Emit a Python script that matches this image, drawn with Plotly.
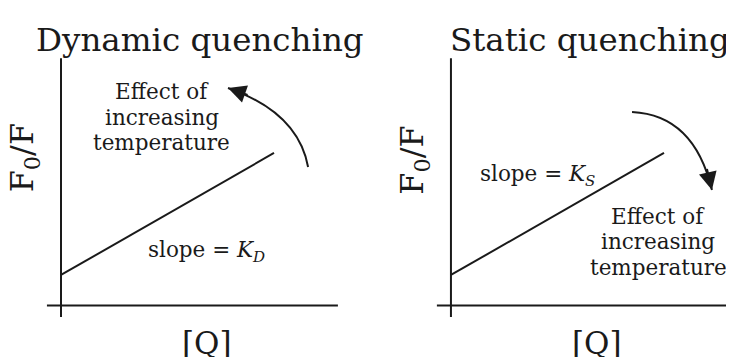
import plotly.graph_objects as go

# schematic Stern-Volmer lines
quencher = [0, 1]
f0f_dynamic = [1, 5]
f0f_static = [1, 5]

titles = ["Dynamic quenching", "Static quenching"]
ylabel = "F<sub>0</sub>/F"
xlabel = "[Q]"
effect_lines = ["Effect of", "increasing", "temperature"]

serif = "DejaVu Serif"
ink = "#1a1a1a"

fig = go.Figure()
fig.add_trace(go.Scatter(x=quencher, y=f0f_dynamic, mode="lines",
                         line=dict(color=ink, width=2), xaxis="x", yaxis="y"))
fig.add_trace(go.Scatter(x=quencher, y=f0f_static, mode="lines",
                         line=dict(color=ink, width=2), xaxis="x2", yaxis="y2"))

shapes = []
for xr, yr in [("x", "y"), ("x2", "y2")]:
    # axis lines crossing at the origin
    shapes.append(dict(type="line", xref=xr, yref=yr, x0=-0.066, x1=1.30, y0=0, y1=0,
                       line=dict(color=ink, width=2)))
    shapes.append(dict(type="line", xref=xr, yref=yr, x0=0, x1=0, y0=-0.377, y1=8.11,
                       line=dict(color=ink, width=2)))

# curved arrows
shapes.append(dict(type="path", xref="x", yref="y",
                   path="M 1.160,4.541 Q 1.113,6.328 0.784,7.131",
                   line=dict(color=ink, width=2)))
shapes.append(dict(type="path", xref="x2", yref="y2",
                   path="M 0.850,6.344 Q 1.141,6.246 1.225,3.787",
                   line=dict(color=ink, width=2)))

big = dict(family=serif, size=32.5, color=ink)
annotations = []
for i, (tx, lx, ly, qx) in enumerate([(0.2645, 0.0225, 0.5702, 0.2741),
                                      (0.8017, 0.5590, 0.5645, 0.8113)]):
    annotations.append(dict(text=titles[i], x=tx, y=0.9083, xref="paper", yref="paper",
                            xanchor="center", yanchor="middle", showarrow=False, font=big))
    annotations.append(dict(text=ylabel, x=lx, y=ly, xref="paper", yref="paper",
                            xanchor="center", yanchor="middle", textangle=-90,
                            showarrow=False, font=dict(family=serif, size=32, color=ink)))
    annotations.append(dict(text=xlabel, x=qx, y=0.0401, xref="paper", yref="paper",
                            xanchor="center", yanchor="middle", showarrow=False,
                            font=dict(family=serif, size=31, color=ink)))

small = dict(family=serif, size=21.5, color=ink)
for line, yl, yr in zip(effect_lines, [7.0, 6.148, 5.328], [2.934, 2.082, 1.230]):
    annotations.append(dict(text=line, x=0.474, y=yl, xref="x", yref="y",
                            showarrow=False, font=small))
    annotations.append(dict(text=line, x=0.972, y=yr, xref="x2", yref="y2",
                            showarrow=False, font=small))
annotations.append(dict(text="slope = <i>K</i><sub><i>D</i></sub>", x=0.685, y=1.754,
                        xref="x", yref="y", showarrow=False, font=small))
annotations.append(dict(text="slope = <i>K</i><sub><i>S</i></sub>", x=0.408, y=4.246,
                        xref="x2", yref="y2", showarrow=False, font=small))

# arrowheads at the ends of the curves
annotations.append(dict(text="", x=0.784, y=7.131, ax=0.883, ay=6.889, xref="x", yref="y",
                        axref="x", ayref="y", showarrow=True, arrowhead=2, arrowsize=1.8,
                        arrowwidth=2, arrowcolor=ink))
annotations.append(dict(text="", x=1.225, y=3.787, ax=1.200, ay=4.525, xref="x2", yref="y2",
                        axref="x2", ayref="y2", showarrow=True, arrowhead=2, arrowsize=1.8,
                        arrowwidth=2, arrowcolor=ink))

# page adds an 8px body margin, so the figure is 8px smaller each way
fig.update_layout(
    width=726, height=349, margin=dict(l=0, r=0, t=0, b=0),
    paper_bgcolor="white", plot_bgcolor="white", showlegend=False,
    xaxis=dict(domain=[0, 0.4945], range=[-0.2488, 1.4366], visible=False),
    yaxis=dict(domain=[0, 1], range=[-1.689, 9.754], visible=False),
    xaxis2=dict(domain=[0.4945, 1], range=[-0.394, 1.3286], visible=False),
    yaxis2=dict(domain=[0, 1], range=[-1.689, 9.754], visible=False, anchor="x2"),
    shapes=shapes, annotations=annotations,
)

fig.write_html("out.html")
